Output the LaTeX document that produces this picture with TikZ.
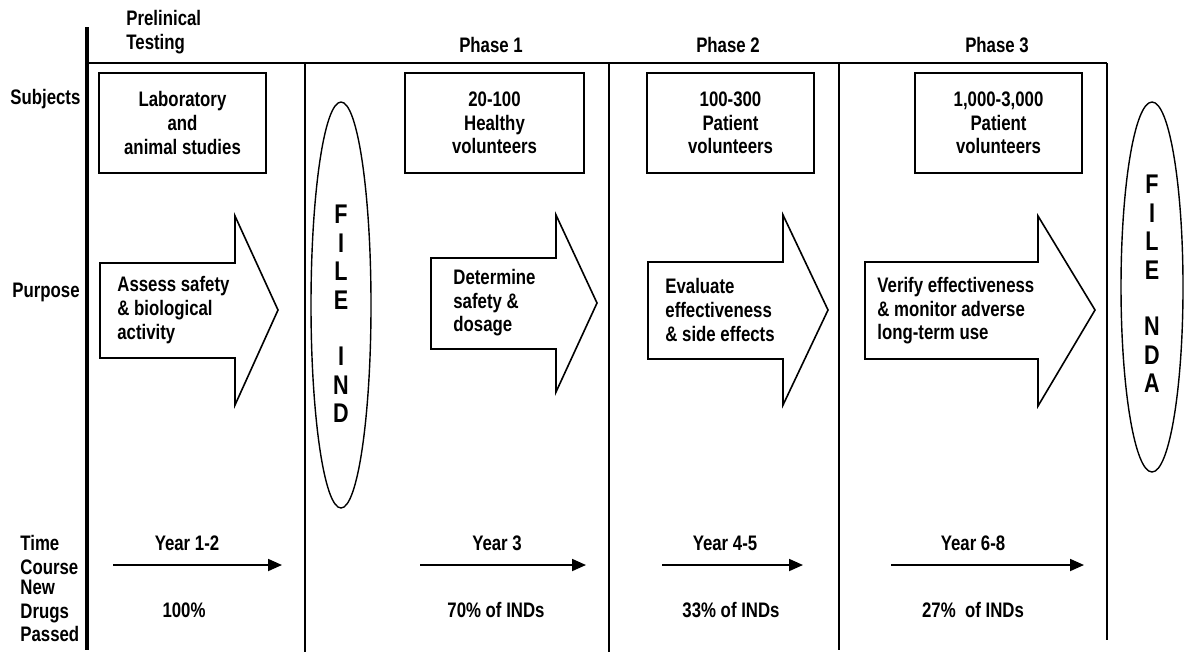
\documentclass[tikz,border=0pt]{standalone}
\usepackage{fontspec}
\setmainfont{Liberation Sans}[FakeStretch=0.8]
\usetikzlibrary{arrows.meta,shapes.geometric}

\tikzset{
  txt/.style={font=\bfseries\fontsize{10.5}{11.8}\selectfont, inner sep=0pt},
  rowlbl/.style={txt, anchor=west, align=left},
  subjbox/.style={draw, line width=0.8pt, txt, align=center, minimum height=50pt},
  purp/.style={draw, line width=0.8pt, line join=miter},
  fileoval/.style={draw, ellipse, line width=0.7pt, inner sep=0pt},
  filetxt/.style={font=\bfseries\fontsize{13.5}{14.2}\selectfont, align=center, inner sep=0pt},
  timearr/.style={line width=0.9pt, -{Triangle[length=7pt,width=6pt]}},
  sep/.style={line width=0.8pt}
}

\begin{document}
\begin{tikzpicture}[x=0.5pt,y=-0.5pt]
  \useasboundingbox (0,0) rectangle (1192,654);

  % frame
  \draw[line width=2pt] (87,27) -- (87,650);
  \draw[line width=1.3pt] (87,63) -- (1107,63);
  \draw[sep] (305,63) -- (305,652);
  \draw[sep] (609,63) -- (609,652);
  \draw[sep] (839,63) -- (839,650);
  \draw[sep] (1107,63) -- (1107,640);

  % column heads
  \node[rowlbl] (pre) at (126,32) {Prelinical\\Testing};
  \node[txt] (ph1) at (491,45) {Phase 1};
  \node[txt] (ph2) at (728,45) {Phase 2};
  \node[txt] (ph3) at (997,45) {Phase 3};

  % row labels
  \node[rowlbl] (subjects) at (10,99) {Subjects};
  \node[rowlbl] (purpose) at (12,292) {Purpose};
  \node[rowlbl] (timecourse) at (20,555) {Time\\Course};
  \node[rowlbl] (passed) at (20,611) {New\\Drugs\\Passed};

  % subjects
  \node[subjbox, minimum width=83.5pt] (lab) at (182.5,123) {Laboratory\\and\\animal studies};
  \node[subjbox, minimum width=89.5pt] (sub1) at (494.5,123) {20-100\\Healthy\\volunteers};
  \node[subjbox, minimum width=83.5pt] (sub2) at (730.5,123) {100-300\\Patient\\volunteers};
  \node[subjbox, minimum width=83.5pt] (sub3) at (998.5,123) {1,000-3,000\\Patient\\volunteers};

  % purpose arrows
  \draw[purp] (100,263) -- (235,263) -- (235,216) -- (278,310) -- (235,405) -- (235,358) -- (100,358) -- cycle;
  \draw[purp] (431,258) -- (556,258) -- (556,215) -- (597,303) -- (556,392) -- (556,349) -- (431,349) -- cycle;
  \draw[purp] (648,262) -- (783,262) -- (783,215) -- (828,310) -- (783,405) -- (783,359) -- (648,359) -- cycle;
  \draw[purp] (865,262) -- (1038,262) -- (1038,216) -- (1095,310) -- (1038,406) -- (1038,359) -- (865,359) -- cycle;
  \node[rowlbl] (pur0) at (117,310) {Assess safety\\\& biological\\activity};
  \node[rowlbl] (pur1) at (453,303) {Determine\\safety \&\\dosage};
  \node[rowlbl] (pur2) at (665,310) {Evaluate\\effectiveness\\\& side effects};
  \node[rowlbl] (pur3) at (877,311) {Verify effectiveness\\\& monitor adverse\\long-term use};

  % filing
  \node[fileoval, minimum width=30pt, minimum height=203pt] (ind) at (341,305) {};
  \node[filetxt] (indtxt) at (341,314) {F\\I\\L\\E\\[14.2pt]I\\N\\D};
  \node[fileoval, minimum width=31pt, minimum height=185pt] (nda) at (1152,287) {};
  \node[filetxt] (ndatxt) at (1152,284) {F\\I\\L\\E\\[14.2pt]N\\D\\A};

  % time course
  \node[txt] (yr0) at (187,543) {Year 1-2};
  \node[txt] (yr1) at (497,543) {Year 3};
  \node[txt] (yr2) at (725,543) {Year 4-5};
  \node[txt] (yr3) at (973,543) {Year 6-8};
  \coordinate (t0a) at (113,565); \coordinate (t0b) at (282,565);
  \coordinate (t1a) at (420,565); \coordinate (t1b) at (586,565);
  \coordinate (t2a) at (662,565); \coordinate (t2b) at (803,565);
  \coordinate (t3a) at (891,565); \coordinate (t3b) at (1084,565);
  \draw[timearr] (t0a) -- (t0b);
  \draw[timearr] (t1a) -- (t1b);
  \draw[timearr] (t2a) -- (t2b);
  \draw[timearr] (t3a) -- (t3b);

  % passed
  \node[txt] (pass0) at (184,610) {100\%};
  \node[txt] (pass1) at (496,610) {70\% of INDs};
  \node[txt] (pass2) at (731,610) {33\% of INDs};
  \node[txt] (pass3) at (973,610) {27\%\ \ of INDs};
\end{tikzpicture}
\end{document}
